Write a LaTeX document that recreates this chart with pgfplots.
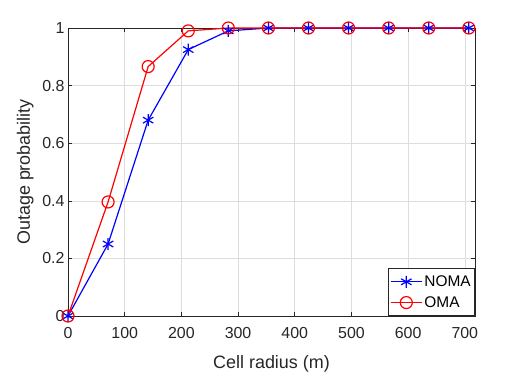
\documentclass[border=0pt]{standalone}
\usepackage{fontspec}
\setmainfont{Liberation Sans}
\usepackage{pgfplots}
\pgfplotsset{compat=1.18}
\definecolor{axgray}{gray}{0.15}
\definecolor{gridgray}{gray}{0.87}

\begin{document}
\begin{tikzpicture}[x=1bp,y=1bp]
% page frame, same size as the reference
\path (-68,-58) rectangle (458,316);
\begin{axis}[
    at={(0,0)}, anchor=south west,
    scale only axis,
    width=407bp, height=288bp,
    xmin=0, xmax=718,
    ymin=0, ymax=1,
    xtick={0,100,...,700},
    ytick={0,0.2,0.4,0.6,0.8,1},
    yticklabels={0,0.2,0.4,0.6,0.8,1},
    /pgf/number format/assume math mode=true,
    tick label style={font=\fontsize{16}{19}\selectfont, text=axgray},
    xticklabel style={yshift=-8bp},
    tick align=inside,
    major tick length=4bp,
    tick style={axgray, line width=0.6bp},
    axis line style={axgray, line width=0.6bp},
    grid=major,
    major grid style={gridgray, line width=0.6bp},
    xlabel={Cell radius (m)},
    ylabel={Outage probability},
    label style={font=\fontsize{18}{21}\selectfont, text=axgray},
    xlabel style={at={(axis description cs:0.5,0)}, anchor=base, yshift=-52bp},
    % the label is already turned by 90 degrees, so yshift moves it to the left
    ylabel style={at={(axis description cs:0,0.5)}, anchor=base, yshift=38bp},
    clip=false,
    legend style={at={(1,0)}, anchor=south east, draw=axgray, line width=0.6bp,
        font=\fontsize{15.5}{17}\selectfont, inner xsep=2bp, inner ysep=5bp,
        row sep=4.5bp},
    legend cell align=left,
    legend image code/.code={
        \draw[mark repeat=2, mark phase=2] plot coordinates {(0bp,0bp) (15.5bp,0bp) (31bp,0bp)};
    },
]

\addplot[color=blue, line width=1.2bp, mark=asterisk, mark size=6bp] coordinates {
    (0,0)
    (70.71,0.25)
    (141.42,0.68)
    (212.13,0.925)
    (282.84,0.99)
    (353.55,1)
    (424.26,1)
    (494.97,1)
    (565.69,1)
    (636.40,1)
    (707.11,1)
};
\addlegendentry{NOMA}

\addplot[color=red, line width=1.2bp, mark=o, mark size=6bp] coordinates {
    (0,0)
    (70.71,0.396)
    (141.42,0.866)
    (212.13,0.99)
    (282.84,1)
    (353.55,1)
    (424.26,1)
    (494.97,1)
    (565.69,1)
    (636.40,1)
    (707.11,1)
};
\addlegendentry{OMA}

\end{axis}
\end{tikzpicture}
\end{document}
